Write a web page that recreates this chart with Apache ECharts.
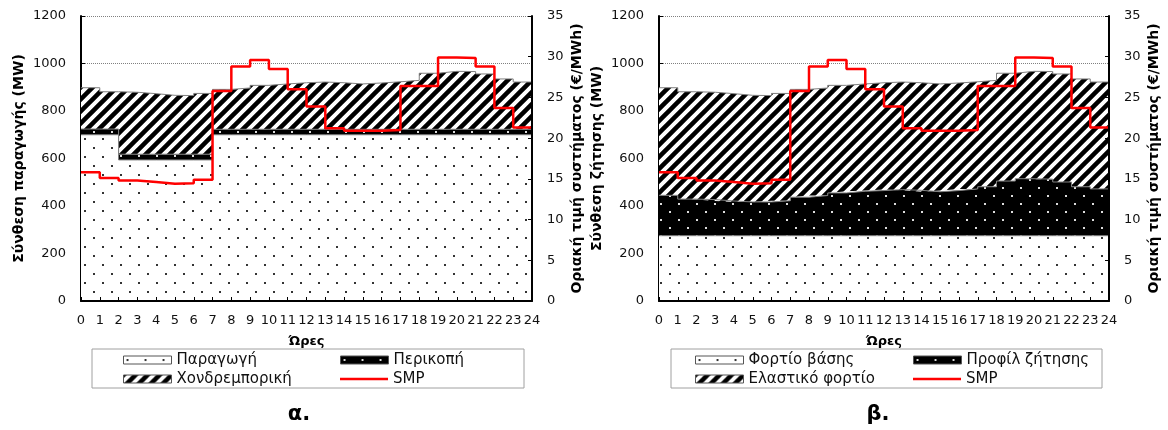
<!DOCTYPE html>
<html>
<head>
<meta charset="utf-8">
<script src="https://cdn.jsdelivr.net/npm/echarts@6/dist/echarts.min.js"></script>
<style>
  html, body { margin: 0; padding: 0; background: #fff; }
  #chart { width: 1168px; height: 430px; }
</style>
</head>
<body>
<div id="chart"></div>
<script>
// hour tick labels (step edges)
const hours = ['0', '1', '2', '3', '4', '5', '6', '7', '8', '9', '10', '11', '12',
  '13', '14', '15', '16', '17', '18', '19', '20', '21', '22', '23', '24']

// α. supply side (MW), one value per hour
const production = [700, 700, 594, 594, 594, 594, 594, 700, 700, 700, 700, 700,
  700, 700, 700, 700, 700, 700, 700, 700, 700, 700, 700, 700]
const curtailment = [24, 24, 24, 24, 24, 24, 24, 23, 23, 23, 23, 23,
  23, 23, 23, 23, 23, 23, 23, 23, 23, 23, 23, 23]
const wholesale = [174, 157, 261, 255, 248, 247, 256, 168, 174, 185, 191, 196,
  199, 196, 191, 195, 200, 206, 236, 244, 243, 233, 212, 199]

// β. demand side (MW)
const baseLoad = [275, 275, 275, 275, 275, 275, 275, 275, 275, 275, 275, 275,
  275, 275, 275, 275, 275, 275, 275, 275, 275, 275, 275, 275]
const demandProfile = [170, 154, 152, 146, 142, 142, 147, 162, 169, 180, 187, 190,
  194, 191, 185, 190, 197, 206, 230, 240, 238, 226, 206, 197]
const elasticLoad = [453, 452, 452, 452, 449, 448, 452, 454, 453, 453, 452, 454,
  453, 453, 454, 453, 451, 448, 454, 452, 453, 455, 454, 450]

// system marginal price (€/MWh)
const smp = [15.8, 15.1, 14.8, 14.6, 14.4, 14.45, 14.9, 25.8, 28.8, 29.6, 28.5, 26.0,
  23.9, 21.2, 20.9, 20.9, 21.0, 26.4, 26.4, 29.9, 29.85, 28.8, 23.7, 21.3]

const FONT = '"DejaVu Sans", sans-serif'

// repeat the last hour so the step reaches hour 24
const close = arr => arr.concat([arr[arr.length - 1]])

const makeTile = (w, h, draw) => {
  const c = document.createElement('canvas')
  c.width = w
  c.height = h
  draw(c.getContext('2d'))
  return { image: c, repeat: 'repeat' }
}

const lightDots = makeTile(18, 18, ctx => {
  ctx.fillStyle = '#fff'
  ctx.fillRect(0, 0, 18, 18)
  ctx.fillStyle = '#333'
  ctx.fillRect(3, 3, 2, 2)
  ctx.fillRect(12, 12, 2, 2)
})
const darkDots = makeTile(18, 16, ctx => {
  ctx.fillStyle = '#000'
  ctx.fillRect(0, 0, 18, 16)
  ctx.fillStyle = '#ddd'
  ctx.fillRect(3, 3, 2, 2)
  ctx.fillRect(12, 11, 2, 2)
})
const hatch = makeTile(12, 12, ctx => {
  ctx.fillStyle = '#fff'
  ctx.fillRect(0, 0, 12, 12)
  ctx.strokeStyle = '#000'
  ctx.lineWidth = 4.5
  ctx.beginPath()
  ctx.moveTo(-6, 18); ctx.lineTo(18, -6)
  ctx.moveTo(-12, 12); ctx.lineTo(12, -12)
  ctx.moveTo(0, 24); ctx.lineTo(24, 0)
  ctx.stroke()
})

const area = (name, data, fill, xi, yi, stack) => ({
  name,
  type: 'line',
  xAxisIndex: xi,
  yAxisIndex: yi,
  stack,
  step: 'end',
  symbol: 'none',
  data: close(data),
  lineStyle: { color: '#808080', width: 1 },
  itemStyle: { color: '#808080' },
  areaStyle: { color: fill, opacity: 1 },
  emphasis: { disabled: true },
  z: 2
})

const priceLine = (xi, yi) => ({
  name: 'SMP',
  type: 'line',
  xAxisIndex: xi,
  yAxisIndex: yi,
  step: 'end',
  symbol: 'none',
  data: close(smp),
  lineStyle: { color: '#ff0000', width: 2.5 },
  itemStyle: { color: '#ff0000' },
  emphasis: { disabled: true },
  z: 4
})

const xAxis = gi => ({
  gridIndex: gi,
  type: 'category',
  data: hours,
  boundaryGap: false,
  z: 5,
  name: 'Ώρες',
  nameLocation: 'middle',
  nameGap: 34,
  nameTextStyle: { fontFamily: FONT, fontSize: 13, fontWeight: 'bold', color: '#000' },
  axisLine: { lineStyle: { color: '#000', width: 2 } },
  axisTick: { inside: true, length: 4, interval: 0, lineStyle: { color: '#000' } },
  axisLabel: { interval: 0, margin: 13, fontFamily: FONT, fontSize: 13, color: '#111' },
  splitLine: { show: false }
})

const mwAxis = (gi, name) => ({
  gridIndex: gi,
  type: 'value',
  position: 'left',
  min: 0,
  max: 1200,
  interval: 200,
  name,
  nameLocation: 'middle',
  nameGap: 55,
  nameTextStyle: { fontFamily: FONT, fontSize: 14, fontWeight: 'bold', color: '#000' },
  axisLine: { show: true, lineStyle: { color: '#000', width: 2 } },
  axisTick: { show: true, inside: true, length: 4, lineStyle: { color: '#000' } },
  axisLabel: { margin: 15, fontFamily: FONT, fontSize: 13, color: '#111', formatter: v => String(v) },
  splitLine: { show: true, lineStyle: { type: 'dotted', color: '#808080', width: 1 } }
})

const priceAxis = gi => ({
  gridIndex: gi,
  type: 'value',
  position: 'right',
  min: 0,
  max: 35,
  interval: 5,
  z: 5,
  name: 'Οριακή τιμή συστήματος (€/MWh)',
  nameLocation: 'middle',
  nameGap: 38,
  nameTextStyle: { fontFamily: FONT, fontSize: 14, fontWeight: 'bold', color: '#000' },
  axisLine: { show: true, lineStyle: { color: '#000', width: 2 } },
  axisTick: { show: true, inside: true, length: 4, lineStyle: { color: '#000' } },
  axisLabel: { margin: 15, fontFamily: FONT, fontSize: 13, color: '#111' },
  splitLine: { show: false }
})

const legendItem = (name, left, top, style, h) => ({
  data: [{ name, icon: 'rect', itemStyle: style }],
  left,
  top,
  padding: 0,
  itemWidth: 48,
  itemHeight: h,
  selectedMode: false,
  textStyle: { fontFamily: FONT, fontSize: 15, color: '#111', lineHeight: 16 }
})

const boxStyle = fill => ({ color: fill, borderColor: '#555', borderWidth: 1 })
const redStyle = { color: '#ff0000', borderWidth: 0 }

const chart = echarts.init(document.getElementById('chart'), null, { renderer: 'canvas' })
chart.setOption({
  animation: false,
  grid: [
    { left: 81, top: 16, width: 451, height: 285 },
    { left: 659, top: 16, width: 450, height: 285 }
  ],
  xAxis: [xAxis(0), xAxis(1)],
  yAxis: [
    mwAxis(0, 'Σύνθεση παραγωγής (MW)'),
    priceAxis(0),
    mwAxis(1, 'Σύνθεση ζήτησης (MW)'),
    priceAxis(1)
  ],
  legend: [
    legendItem('Παραγωγή', 123, 352, boxStyle(lightDots), 8),
    legendItem('Χονδρεμπορική', 123, 371, boxStyle(hatch), 8),
    legendItem('Περικοπή', 340, 352, boxStyle(darkDots), 8),
    legendItem('SMP', 340, 371, redStyle, 2.5),
    legendItem('Φορτίο βάσης', 695, 352, boxStyle(lightDots), 8),
    legendItem('Ελαστικό φορτίο', 695, 371, boxStyle(hatch), 8),
    legendItem('Προφίλ ζήτησης', 913, 352, boxStyle(darkDots), 8),
    legendItem('SMP', 913, 371, redStyle, 2.5)
  ],
  graphic: [
    { type: 'rect', shape: { x: 92, y: 349, width: 432, height: 39 },
      style: { fill: 'none', stroke: '#a0a0a0', lineWidth: 1 } },
    { type: 'rect', shape: { x: 671, y: 349, width: 431, height: 39 },
      style: { fill: 'none', stroke: '#a0a0a0', lineWidth: 1 } },
    { type: 'text', x: 299, y: 415,
      style: { text: 'α.', font: 'bold 21px "DejaVu Sans", sans-serif', fill: '#000', align: 'center', verticalAlign: 'middle' } },
    { type: 'text', x: 878, y: 415,
      style: { text: 'β.', font: 'bold 21px "DejaVu Sans", sans-serif', fill: '#000', align: 'center', verticalAlign: 'middle' } }
  ],
  series: [
    area('Παραγωγή', production, lightDots, 0, 0, 'supply'),
    area('Περικοπή', curtailment, darkDots, 0, 0, 'supply'),
    area('Χονδρεμπορική', wholesale, hatch, 0, 0, 'supply'),
    priceLine(0, 1),
    area('Φορτίο βάσης', baseLoad, lightDots, 1, 2, 'demand'),
    area('Προφίλ ζήτησης', demandProfile, darkDots, 1, 2, 'demand'),
    area('Ελαστικό φορτίο', elasticLoad, hatch, 1, 2, 'demand'),
    priceLine(1, 3)
  ]
})
</script>
</body>
</html>
